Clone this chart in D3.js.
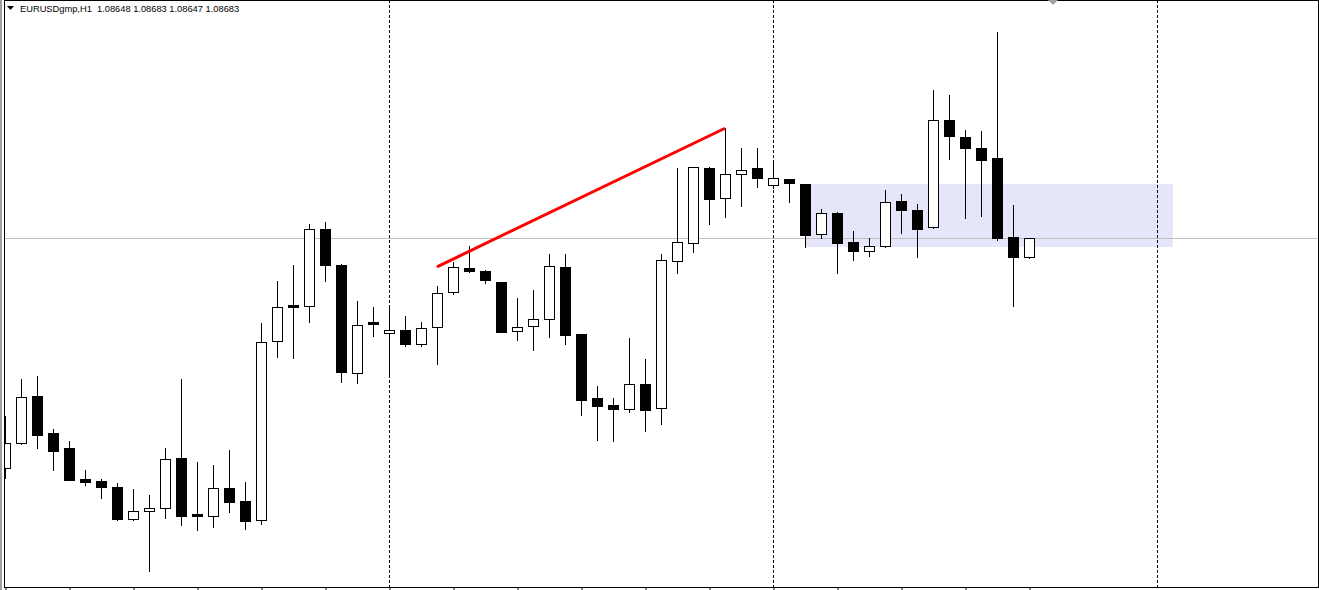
<!DOCTYPE html>
<html>
<head>
<meta charset="utf-8">
<script src="https://cdn.jsdelivr.net/npm/d3@7"></script>
<style>
  html, body { margin: 0; padding: 0; background: #fff; }
  svg { display: block; }
  .chart-label { font-family: "Liberation Sans", Arial, sans-serif; font-size: 9.3px; fill: #000; }
</style>
</head>
<body>
<div id="chart"></div>
<script>
// EURUSDgmp H1 candles (oldest first)
const symbolLabel = "EURUSDgmp,H1"
const lastQuote = ["1.08648", "1.08683", "1.08647", "1.08683"]

const opens = [
  1.08260, 1.08306, 1.08392, 1.08324, 1.08297, 1.08240, 1.08236, 1.08225, 1.08166, 1.08181,
  1.08186, 1.08278, 1.08175, 1.08171, 1.08223, 1.08199, 1.08164, 1.08493, 1.08560, 1.08558,
  1.08700, 1.08633, 1.08435, 1.08528, 1.08508, 1.08514, 1.08488, 1.08519, 1.08584, 1.08628,
  1.08622, 1.08602, 1.08512, 1.08521, 1.08534, 1.08630, 1.08506, 1.08389, 1.08376, 1.08368,
  1.08414, 1.08370, 1.08641, 1.08674, 1.08812, 1.08757, 1.08801, 1.08812, 1.08781, 1.08792,
  1.08782, 1.08690, 1.08729, 1.08676, 1.08659, 1.08668, 1.08751, 1.08735, 1.08703, 1.08900,
  1.08869, 1.08849, 1.08830, 1.08685, 1.08648
]
const highs = [
  1.08355, 1.08424, 1.08429, 1.08332, 1.08309, 1.08256, 1.08240, 1.08232, 1.08221, 1.08210,
  1.08297, 1.08424, 1.08271, 1.08265, 1.08293, 1.08234, 1.08527, 1.08604, 1.08633, 1.08709,
  1.08712, 1.08635, 1.08567, 1.08556, 1.08558, 1.08539, 1.08528, 1.08595, 1.08639, 1.08668,
  1.08624, 1.08602, 1.08573, 1.08587, 1.08654, 1.08654, 1.08506, 1.08411, 1.08389, 1.08499,
  1.08460, 1.08654, 1.08812, 1.08814, 1.08814, 1.08885, 1.08849, 1.08849, 1.08823, 1.08792,
  1.08782, 1.08736, 1.08731, 1.08696, 1.08683, 1.08771, 1.08764, 1.08746, 1.08955, 1.08946,
  1.08882, 1.08880, 1.09062, 1.08744, 1.08683
]
const lows = [
  1.08241, 1.08304, 1.08297, 1.08256, 1.08238, 1.08229, 1.08205, 1.08164, 1.08165, 1.08070,
  1.08168, 1.08155, 1.08146, 1.08151, 1.08179, 1.08148, 1.08157, 1.08464, 1.08462, 1.08528,
  1.08604, 1.08418, 1.08416, 1.08503, 1.08431, 1.08484, 1.08484, 1.08451, 1.08580, 1.08620,
  1.08600, 1.08510, 1.08495, 1.08477, 1.08501, 1.08488, 1.08357, 1.08311, 1.08309, 1.08363,
  1.08328, 1.08341, 1.08619, 1.08657, 1.08709, 1.08722, 1.08742, 1.08777, 1.08775, 1.08749,
  1.08666, 1.08683, 1.08619, 1.08643, 1.08650, 1.08667, 1.08692, 1.08648, 1.08702, 1.08828,
  1.08720, 1.08723, 1.08679, 1.08558, 1.08647
]
const closes = [
  1.08306, 1.08390, 1.08321, 1.08291, 1.08238, 1.08234, 1.08225, 1.08166, 1.08181, 1.08186,
  1.08276, 1.08171, 1.08171, 1.08223, 1.08197, 1.08162, 1.08492, 1.08556, 1.08556, 1.08700,
  1.08633, 1.08436, 1.08523, 1.08525, 1.08514, 1.08488, 1.08517, 1.08582, 1.08630, 1.08622,
  1.08606, 1.08510, 1.08519, 1.08534, 1.08631, 1.08505, 1.08385, 1.08374, 1.08368, 1.08414,
  1.08367, 1.08643, 1.08676, 1.08814, 1.08755, 1.08801, 1.08808, 1.08793, 1.08793, 1.08784,
  1.08689, 1.08729, 1.08674, 1.08659, 1.08668, 1.08749, 1.08735, 1.08700, 1.08900, 1.08871,
  1.08849, 1.08827, 1.08683, 1.08648, 1.08683
]

// day separators (bar index), hour ticks every 4 bars
const daySeparators = [24, 48, 72]
const tickBars = d3.range(0, opens.length, 4)

// drawn objects: trend line and a zone rectangle (bar index / price)
const trendLine = { from: [27, 1.08630], to: [45, 1.08885] }
const zoneRect = { fromBar: 50, toBar: 73, top: 1.08782, bottom: 1.08666 }

// visible window
const barRange = [0, 82]
const priceRange = [1.08039, 1.09121]

const dimensions = { width: 1319, height: 590, left: 4, right: 1318, top: 0, bottom: 587 }

const svg = d3.select("#chart").append("svg")
    .attr("width", dimensions.width)
    .attr("height", dimensions.height)

const xScale = d3.scaleLinear().domain(barRange).range([5, 5 + 16 * barRange[1]])
const yScale = d3.scaleLinear().domain(priceRange).range([588, 0])
const px = v => Math.round(v)

svg.append("defs").append("clipPath").attr("id", "plot")
  .append("rect")
    .attr("x", dimensions.left + 1)
    .attr("y", dimensions.top + 1)
    .attr("width", dimensions.right - dimensions.left - 1)
    .attr("height", dimensions.bottom - dimensions.top - 1)

const plot = svg.append("g").attr("clip-path", "url(#plot)")

// Zone rectangle sits in the background
plot.append("rect")
    .attr("x", px(xScale(zoneRect.fromBar)))
    .attr("y", px(yScale(zoneRect.top)))
    .attr("width", px(xScale(zoneRect.toBar)) - px(xScale(zoneRect.fromBar)))
    .attr("height", px(yScale(zoneRect.bottom)) - px(yScale(zoneRect.top)))
    .attr("fill", "#e6e6fa")

// Bid line
const bidY = px(yScale(closes[closes.length - 1])) + 0.5
plot.append("line")
    .attr("x1", dimensions.left).attr("x2", dimensions.right)
    .attr("y1", bidY).attr("y2", bidY)
    .attr("stroke", "#c0c0c0")
    .attr("stroke-width", 1)

// Period separators
plot.selectAll(".separator")
  .data(daySeparators)
  .join("line")
    .attr("class", "separator")
    .attr("x1", d => px(xScale(d)) + 0.5)
    .attr("x2", d => px(xScale(d)) + 0.5)
    .attr("y1", dimensions.top)
    .attr("y2", dimensions.bottom)
    .attr("stroke", "#000")
    .attr("stroke-width", 1)
    .attr("stroke-dasharray", "3,2")

// Candles
const candles = opens.map((open, i) => ({
  i, open, high: highs[i], low: lows[i], close: closes[i]
}))

const candle = plot.selectAll(".candle")
  .data(candles)
  .join("g")
    .attr("class", "candle")

candle.append("line")
    .attr("x1", d => px(xScale(d.i)) + 0.5)
    .attr("x2", d => px(xScale(d.i)) + 0.5)
    .attr("y1", d => px(yScale(d.high)))
    .attr("y2", d => px(yScale(d.low)) + 1)
    .attr("stroke", "#000")
    .attr("stroke-width", 1)

candle.append("rect")
    .attr("x", d => px(xScale(d.i)) - 4.5)
    .attr("y", d => px(yScale(Math.max(d.open, d.close))) + 0.5)
    .attr("width", 10)
    .attr("height", d => Math.max(1, px(yScale(Math.min(d.open, d.close))) - px(yScale(Math.max(d.open, d.close)))))
    .attr("fill", d => d.close > d.open ? "#fff" : "#000")
    .attr("stroke", "#000")
    .attr("stroke-width", 1)

// Trend line
plot.append("line")
    .attr("x1", xScale(trendLine.from[0]))
    .attr("y1", yScale(trendLine.from[1]))
    .attr("x2", xScale(trendLine.to[0]))
    .attr("y2", yScale(trendLine.to[1]))
    .attr("stroke", "#ff0000")
    .attr("stroke-width", 3)

// Window edge and chart frame
svg.append("rect")
    .attr("x", 0).attr("y", 0).attr("width", 2).attr("height", dimensions.height)
    .attr("fill", "#a0a0a0")
svg.append("rect")
    .attr("x", dimensions.left + 0.5)
    .attr("y", dimensions.top + 0.5)
    .attr("width", dimensions.right - dimensions.left)
    .attr("height", dimensions.bottom - dimensions.top)
    .attr("fill", "none")
    .attr("stroke", "#000")
    .attr("stroke-width", 1)

// Time axis ticks below the frame (labels fall outside the shot)
const xAxisGenerator = d3.axisBottom(xScale)
    .tickValues(tickBars)
    .tickSize(3)
    .tickSizeOuter(0)
    .tickFormat("")
const xAxis = svg.append("g")
    .attr("transform", `translate(0.5, ${dimensions.bottom + 0.5})`)
    .call(xAxisGenerator)
xAxis.select(".domain").remove()
xAxis.selectAll(".tick line").attr("stroke", "#000")

// Chart shift marker
const shiftX = 1053
svg.append("path")
    .attr("d", `M${shiftX - 5},0 L${shiftX + 5},0 L${shiftX},5 Z`)
    .attr("fill", "#a0a0a0")

// Header: symbol, timeframe and OHLC of the last bar
svg.append("path")
    .attr("d", "M7,6 L14,6 L10.5,10 Z")
    .attr("fill", "#000")
svg.append("text")
    .attr("class", "chart-label")
    .attr("x", 20)
    .attr("y", 12)
    .attr("xml:space", "preserve")
    .text(`${symbolLabel}  ${lastQuote.join(" ")}`)
</script>
</body>
</html>
